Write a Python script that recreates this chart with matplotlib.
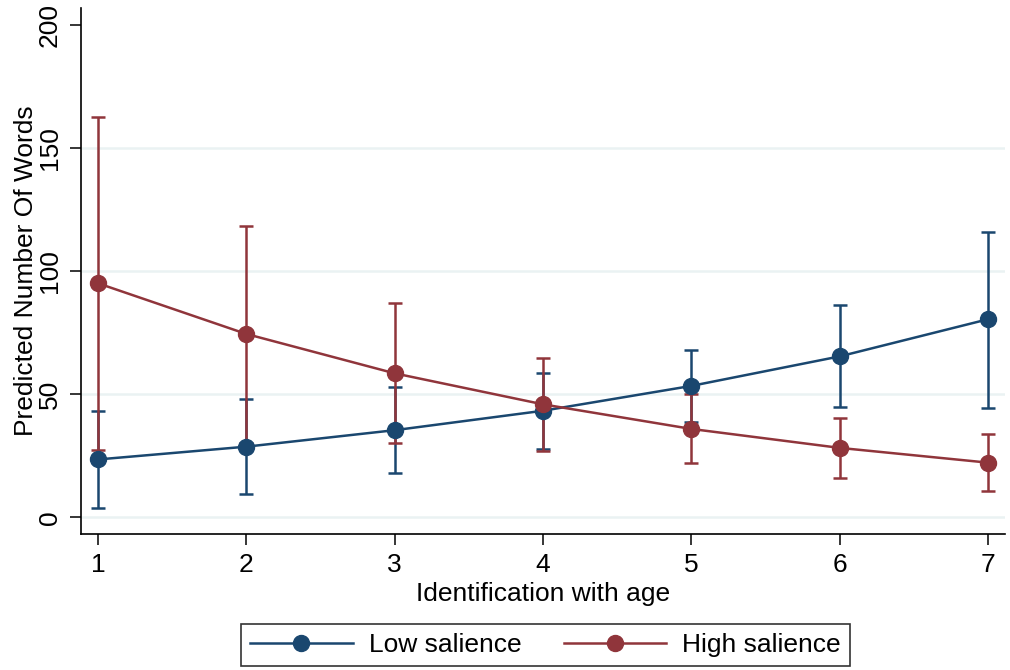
import numpy as np
import matplotlib.pyplot as plt

plt.rcParams['font.family'] = ['Liberation Sans', 'DejaVu Sans']
plt.rcParams['font.size'] = 19

# values
x = [1, 2, 3, 4, 5, 6, 7]
low = [23.5, 28.7, 35.4, 43.3, 53.4, 65.4, 80.5]
low_lo = [3.7, 9.5, 17.9, 27.9, 38.7, 44.7, 44.4]
low_hi = [43.3, 48.1, 53.0, 58.7, 68.0, 86.2, 116.0]
high = [95.1, 74.5, 58.5, 45.9, 35.9, 28.2, 22.2]
high_lo = [27.2, 30.1, 30.1, 27.1, 21.9, 16.0, 10.8]
high_hi = [162.9, 118.5, 87.0, 64.8, 50.1, 40.4, 33.7]

navy = '#1a476f'
maroon = '#90353b'

fig = plt.figure(figsize=(10.1, 6.7), dpi=100)
ax = fig.add_axes([0.0802, 0.203, 0.915, 0.785])

low = np.array(low)
high = np.array(high)
ax.errorbar(x, low, yerr=[low - np.array(low_lo), np.array(low_hi) - low],
            fmt='none', ecolor=navy, elinewidth=1.8, capsize=5, capthick=1.8, zorder=2)
ax.errorbar(x, high, yerr=[high - np.array(high_lo), np.array(high_hi) - high],
            fmt='none', ecolor=maroon, elinewidth=1.8, capsize=5, capthick=1.8, zorder=2)
ax.plot(x, low, '-o', color=navy, lw=1.8, ms=11.5, label='Low salience', zorder=3)
ax.plot(x, high, '-o', color=maroon, lw=1.8, ms=11.5, label='High salience', zorder=3)

ax.set_xlim(0.885, 7.115)
ax.set_ylim(-6.8, 207)
ax.set_xticks(x)
ax.set_yticks([0, 50, 100, 150, 200])
ax.set_yticklabels(['0', '50', '100', '150', '200'], rotation=90, va='center')
for g in [0, 50, 100, 150]:
    ax.axhline(g, color='#eaf2f3', lw=1.8, zorder=0)

for s in ['top', 'right']:
    ax.spines[s].set_visible(False)
ax.spines['left'].set_linewidth(1.2)
ax.spines['bottom'].set_linewidth(1.2)
ax.tick_params(axis='both', length=8, width=1.1, direction='out')
ax.tick_params(axis='x', pad=6)
ax.tick_params(axis='y', pad=6)

ax.set_xlabel('Identification with age', labelpad=3)
ax.set_ylabel('Predicted Number Of Words', labelpad=0)

leg = fig.legend(loc='center', bbox_to_anchor=(0.54, 0.037), ncol=2,
                 frameon=True, fancybox=False, edgecolor='black',
                 handlelength=3.9, handletextpad=0.6, columnspacing=1.6,
                 borderpad=0.35, fontsize=19)
leg.get_frame().set_linewidth(1.2)

fig.savefig('out.png', dpi=100)
